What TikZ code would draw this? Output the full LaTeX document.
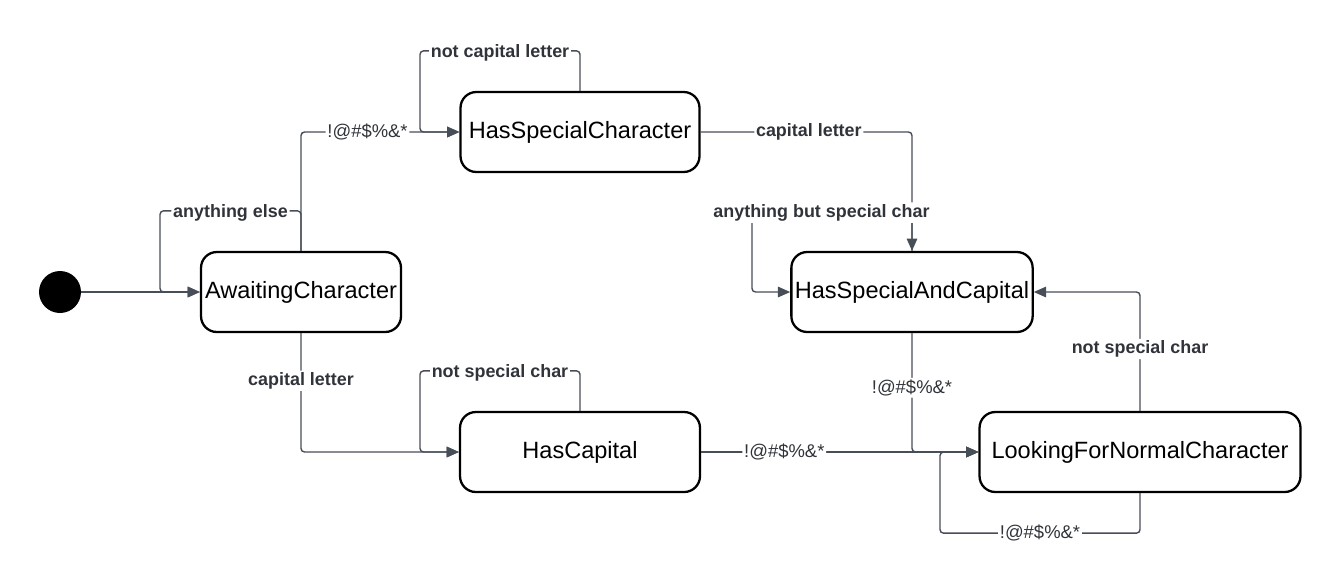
\documentclass[tikz,border=0pt]{standalone}
\usepackage{fontspec}
\setmainfont{Liberation Sans}
\usetikzlibrary{arrows.meta}
\definecolor{edgegray}{RGB}{72,78,88}
\definecolor{labelgray}{RGB}{48,52,58}

\begin{document}
\begin{tikzpicture}[x=0.02cm, y=-0.02cm,
  every node/.style={font=\fontsize{13.4}{15}\selectfont},
  state/.style={draw, line width=1.3pt, rounded corners=9pt, minimum height=1.6cm, inner sep=2pt},
  trans/.style={draw=edgegray, line width=0.8pt, rounded corners=2pt, -{Triangle[length=7pt,width=6pt]}},
  cond/.style={fill=white, inner sep=1pt, text=labelgray, font=\fontsize{10.2}{12}\selectfont\bfseries},
  sym/.style={fill=white, inner sep=1pt, text=labelgray, font=\fontsize{10.5}{12}\selectfont}]
  \useasboundingbox (0,0) rectangle (1341,586);

  \node (start) [circle, fill=black, minimum size=0.84cm, inner sep=0pt] at (60,292) {};
  \node (await) [state, minimum width=4cm] at (301,292) {AwaitingCharacter};
  \node (hasspec) [state, minimum width=4.78cm] at (580,132) {HasSpecialCharacter};
  \node (hascap) [state, minimum width=4.8cm] at (580,452) {HasCapital};
  \node (hsac) [state, minimum width=4.8cm] at (912,292) {HasSpecialAndCapital};
  \node (lfn) [state, minimum width=6.42cm] at (1140,452) {LookingForNormalCharacter};

  \draw[trans] (start) -- (await);
  \draw[trans] (await.north) -- ++(0,-40) -- node[cond, yshift=-1] {anything else} ++(-141,0) |- (await.west);
  \draw[trans] (await.north) |- node[sym, pos=0.71] {!@\#\$\%\&*} (hasspec.west);
  \draw[trans] (await.south) |- node[cond, pos=0.2] {capital letter} (hascap.west);

  \draw[trans] (hasspec.north) -- ++(0,-40) -- node[cond, yshift=-1] {not capital letter} ++(-160,0) |- (hasspec.west);
  \draw[trans] (hasspec.east) -| node[cond, pos=0.256] {capital letter} (hsac.north);

  \draw[trans] (hascap.north) -- ++(0,-40) -- node[cond, yshift=-1] {not special char} ++(-160,0) |- (hascap.west);
  \draw[trans] (hascap.east) -- node[sym, pos=0.3] {!@\#\$\%\&*} (lfn.west);

  \draw[trans] (hsac.north) -- ++(0,-40) -- node[cond, xshift=-6, yshift=-1] {anything but special char} ++(-160,0) |- (hsac.west);
  \draw[trans] (hsac.south) |- node[sym, pos=0.23] {!@\#\$\%\&*} (lfn.west);

  \draw[trans] (lfn.south) -- ++(0,40) -- node[sym] {!@\#\$\%\&*} ++(-200,0) |- (lfn.west);
  \draw[trans] (lfn.north) |- node[cond, pos=0.26] {not special char} (hsac.east);
\end{tikzpicture}
\end{document}
